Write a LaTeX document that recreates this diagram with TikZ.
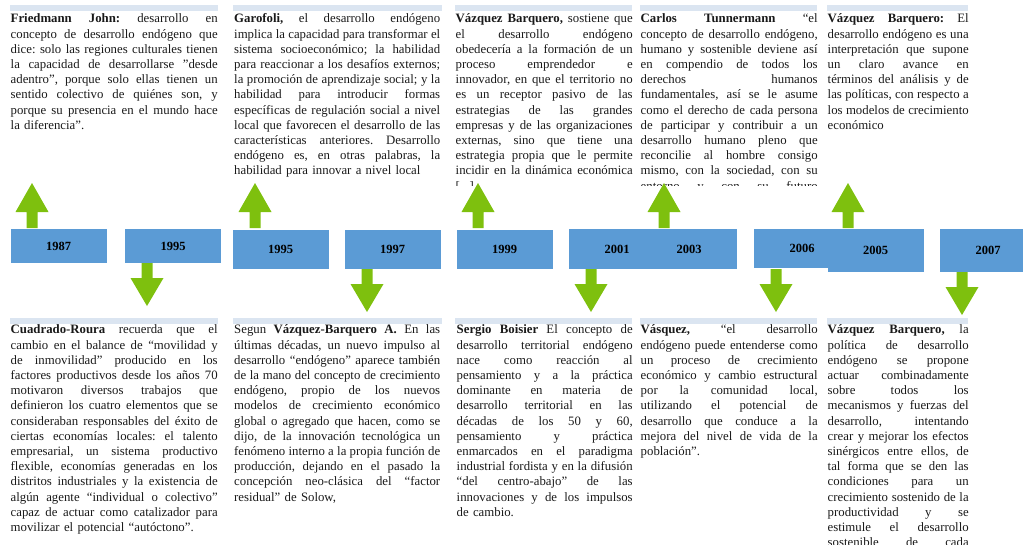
\documentclass[tikz,border=0pt]{standalone}
\usepackage{fontspec}
\setmainfont{Liberation Serif}

\definecolor{boxblue}{RGB}{91,155,213}
\definecolor{arrowgreen}{RGB}{126,192,14}
\definecolor{barblue}{RGB}{219,229,241}

% one justified line, and the last (free) line of a block
\newcommand{\colwd}{200pt}
\newcommand{\jl}[1]{\noindent\hbox to\colwd{\spaceskip=.25em plus 1fil\relax\strut#1}\par}
\newcommand{\lastline}[1]{\noindent\strut#1\par}

\tikzset{
  textcol/.style={anchor=north west, inner sep=0pt, text=black!90,
    text width=#1, execute at begin node={\def\colwd{#1}},
    font=\fontsize{12.8}{15.2}\selectfont\frenchspacing},
  yearbox/.style={fill=boxblue, inner sep=0pt, minimum width=96pt,
    font=\fontsize{12.5}{14}\selectfont\bfseries},
  headbar/.style={fill=barblue},
}

\begin{document}
\begin{tikzpicture}[x=1pt,y=-1pt]
\clip (0,0) rectangle (1023,544);

\foreach \a/\b in {10/218,233/442,455/632,640/817,827/968} {
  \fill[headbar] (\a,5) rectangle (\b,11);
  \fill[headbar] (\a,318) rectangle (\b,324);
}

\begin{scope}
\clip (0,0) rectangle (1023,185);
\node[textcol=207pt] (friedmann) at (10.5,12) {%
\jl{\textbf{Friedmann John:} desarrollo en}
\jl{concepto de desarrollo endógeno que}
\jl{dice: solo las regiones culturales tienen}
\jl{la capacidad de desarrollarse "desde}
\jl{adentro", porque solo ellas tienen un}
\jl{sentido colectivo de quiénes son, y}
\jl{porque su presencia en el mundo hace}
\lastline{la diferencia".}};
\node[textcol=206pt] (garofoli) at (234,12) {%
\jl{\textbf{Garofoli,} el desarrollo endógeno}
\jl{implica la capacidad para transformar el}
\jl{sistema socioeconómico; la habilidad}
\jl{para reaccionar a los desafíos externos;}
\jl{la promoción de aprendizaje social; y la}
\jl{habilidad para introducir formas}
\jl{específicas de regulación social a nivel}
\jl{local que favorecen el desarrollo de las}
\jl{características anteriores. Desarrollo}
\jl{endógeno es, en otras palabras, la}
\lastline{habilidad para innovar a nivel local}};
\node[textcol=177pt] (vazquezA) at (455.5,12) {%
\jl{\textbf{Vázquez Barquero,} sostiene que}
\jl{el desarrollo endógeno}
\jl{obedecería a la formación de un}
\jl{proceso emprendedor e}
\jl{innovador, en que el territorio no}
\jl{es un receptor pasivo de las}
\jl{estrategias de las grandes}
\jl{empresas y de las organizaciones}
\jl{externas, sino que tiene una}
\jl{estrategia propia que le permite}
\jl{incidir en la dinámica económica}
\lastline{[...]}};
\node[textcol=177pt] (tunnermann) at (640.5,12) {%
\jl{\textbf{Carlos Tunnermann} “el}
\jl{concepto de desarrollo endógeno,}
\jl{humano y sostenible deviene así}
\jl{en compendio de todos los}
\jl{derechos humanos}
\jl{fundamentales, así se le asume}
\jl{como el derecho de cada persona}
\jl{de participar y contribuir a un}
\jl{desarrollo humano pleno que}
\jl{reconcilie al hombre consigo}
\jl{mismo, con la sociedad, con su}
\jl{entorno y con su futuro}};
\node[textcol=141pt] (vazquezB) at (827.5,12) {%
\jl{\textbf{Vázquez Barquero:} El}
\jl{desarrollo endógeno es una}
\jl{interpretación que supone}
\jl{un claro avance en}
\jl{términos del análisis y de}
\jl{las políticas, con respecto a}
\jl{los modelos de crecimiento}
\lastline{económico}};
\end{scope}

\node[textcol=207pt] (cuadrado) at (10.5,323) {%
\jl{\textbf{Cuadrado-Roura} recuerda que el}
\jl{cambio en el balance de “movilidad y}
\jl{de inmovilidad” producido en los}
\jl{factores productivos desde los años 70}
\jl{motivaron diversos trabajos que}
\jl{definieron los cuatro elementos que se}
\jl{consideraban responsables del éxito de}
\jl{ciertas economías locales: el talento}
\jl{empresarial, un sistema productivo}
\jl{flexible, economías generadas en los}
\jl{distritos industriales y la existencia de}
\jl{algún agente “individual o colectivo”}
\jl{capaz de actuar como catalizador para}
\lastline{movilizar el potencial “autóctono”.}};
\node[textcol=206pt] (segun) at (234,323) {%
\jl{Segun \textbf{Vázquez-Barquero A.} En las}
\jl{últimas décadas, un nuevo impulso al}
\jl{desarrollo “endógeno” aparece también}
\jl{de la mano del concepto de crecimiento}
\jl{endógeno, propio de los nuevos}
\jl{modelos de crecimiento económico}
\jl{global o agregado que hacen, como se}
\jl{dijo, de la innovación tecnológica un}
\jl{fenómeno interno a la propia función de}
\jl{producción, dejando en el pasado la}
\jl{concepción neo-clásica del “factor}
\lastline{residual” de Solow,}};
\node[textcol=176pt] (boisier) at (456.5,323) {%
\jl{\textbf{Sergio Boisier} El concepto de}
\jl{desarrollo territorial endógeno}
\jl{nace como reacción al}
\jl{pensamiento y a la práctica}
\jl{dominante en materia de}
\jl{desarrollo territorial en las}
\jl{décadas de los 50 y 60,}
\jl{pensamiento y práctica}
\jl{enmarcados en el paradigma}
\jl{industrial fordista y en la difusión}
\jl{“del centro-abajo” de las}
\jl{innovaciones y de los impulsos}
\lastline{de cambio.}};
\node[textcol=177pt] (vasquez) at (640.5,323) {%
\jl{\textbf{Vásquez,} “el desarrollo}
\jl{endógeno puede entenderse como}
\jl{un proceso de crecimiento}
\jl{económico y cambio estructural}
\jl{por la comunidad local,}
\jl{utilizando el potencial de}
\jl{desarrollo que conduce a la}
\jl{mejora del nivel de vida de la}
\lastline{población”.}};
\node[textcol=141pt] (vazquezC) at (827.5,323) {%
\jl{\textbf{Vázquez Barquero,} la}
\jl{política de desarrollo}
\jl{endógeno se propone}
\jl{actuar combinadamente}
\jl{sobre todos los}
\jl{mecanismos y fuerzas del}
\jl{desarrollo, intentando}
\jl{crear y mejorar los efectos}
\jl{sinérgicos entre ellos, de}
\jl{tal forma que se den las}
\jl{condiciones para un}
\jl{crecimiento sostenido de la}
\jl{productividad y se}
\jl{estimule el desarrollo}
\jl{sostenible de cada}};

% timeline
\node[yearbox, minimum height=34pt] (y1987) at (58.5,246) {1987};
\node[yearbox, minimum height=34pt] (y1995a) at (173,246) {1995};
\node[yearbox, minimum height=39pt] (y1995b) at (280.5,249.5) {1995};
\node[yearbox, minimum height=39pt] (y1997) at (392.5,249.5) {1997};
\node[yearbox, minimum height=39pt] (y1999) at (504.5,249.5) {1999};
\node[yearbox, minimum height=40pt] (y2001) at (617,249) {2001};
\node[yearbox, minimum height=40pt] (y2003) at (689,249) {2003};
\node[yearbox, minimum height=39pt] (y2006) at (802,248.5) {2006};
\node[yearbox, minimum height=43pt] (y2005) at (875.5,250.5) {2005};
\node[yearbox, minimum height=43pt] (y2007) at (988,250.5) {2007};

\foreach \x in {32,255,478,664,848}
  \fill[arrowgreen] ({\x-5.5},228) -- ({\x-5.5},212) -- ({\x-16.5},212) -- (\x,183)
    -- ({\x+16.5},212) -- ({\x+5.5},212) -- ({\x+5.5},228) -- cycle;
\foreach \x/\t in {147/263,367/269,591/269,776/269,962/272}
  \fill[arrowgreen] ({\x-5.5},\t) -- ({\x-5.5},\t+15) -- ({\x-16.5},\t+15) -- (\x,\t+43)
    -- ({\x+16.5},\t+15) -- ({\x+5.5},\t+15) -- ({\x+5.5},\t) -- cycle;

\end{tikzpicture}
\end{document}
